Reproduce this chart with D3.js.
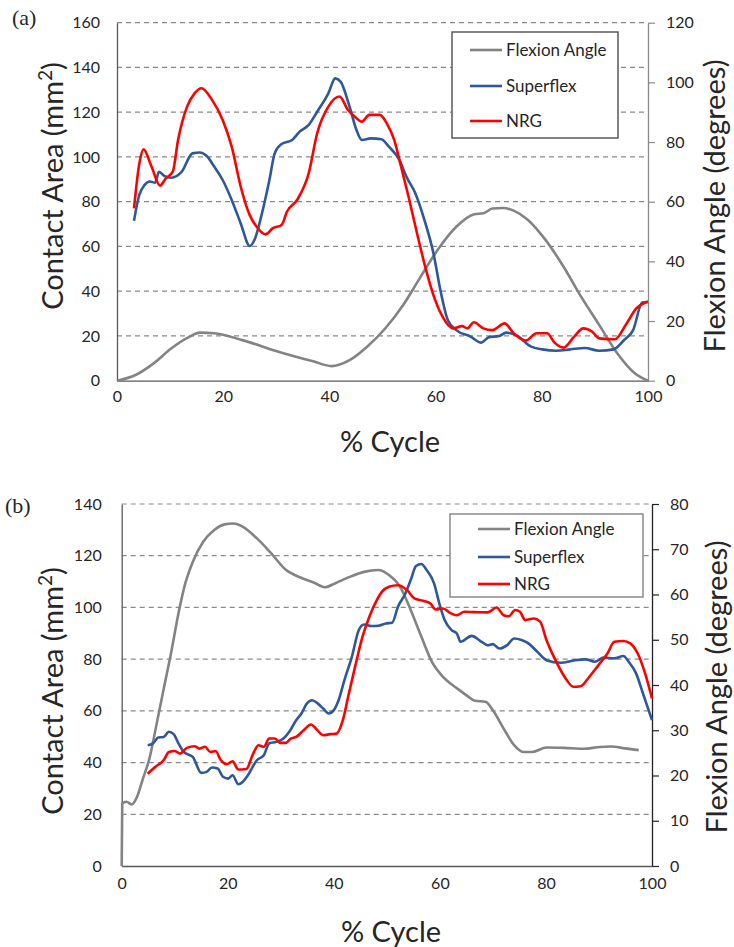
<!DOCTYPE html>
<html>
<head>
<meta charset="utf-8">
<script src="https://cdn.jsdelivr.net/npm/d3@7/dist/d3.min.js"></script>
<style>
    body { margin: 0; background: #fff; }
    text { font-family: Lato, "Open Sans", sans-serif; fill: #262626; }
</style>
</head>
<body>
<svg id="chart" width="734" height="947"></svg>
<script>
// ============================================
// Contact area vs % cycle, two panels
// ============================================

// ---- Panel (a) ----
const flexA_x = [0, 3.5, 6.9, 10.2, 13.6, 15.6, 18.3, 23.6, 30.4, 37.1, 40.4, 43.8, 47.1, 50.5, 53.9, 57.2, 60.6, 63.9, 67.3, 69.0, 70.7, 72.7, 74.7, 77.4, 80.7, 84.1, 87.4, 90.8, 94.2, 97.5, 100];
const flexA_y = [0, 1.9, 5.8, 10.8, 14.7, 16.1, 15.9, 13.6, 9.7, 6.4, 4.9, 6.9, 11.4, 17.5, 25.4, 34.9, 44.4, 51.6, 55.8, 56.1, 57.7, 57.9, 57.0, 53.9, 47.2, 38.2, 28.2, 18.7, 9.2, 2.5, 0];

const superA_x = [3.2, 4.2, 5.2, 6.2, 7.2, 7.9, 8.9, 10.2, 12.2, 14.2, 15.6, 16.9, 18.3, 19.9, 21.6, 23.3, 25, 26, 27.3, 28.7, 29.7, 31, 33, 34.4, 36.1, 37.7, 39.8, 41.1, 42.1, 43.8, 45.1, 46.1, 47.8, 49.8, 51.2, 53.2, 54.5, 56.2, 57.9, 59.6, 60.9, 62.3, 63.9, 66.6, 68.6, 70, 72, 73.3, 75.4, 78, 80.1, 82.7, 85.4, 88.1, 90.8, 93.5, 95.5, 97.2, 98.9, 100];
const superA_y = [71.5, 83, 87.5, 89, 88.5, 93.4, 91.5, 90.7, 93.4, 101.6, 102, 100.4, 95.7, 89.7, 80.8, 70.3, 60.2, 63.6, 74.8, 89.7, 101.6, 105.8, 107.6, 111.3, 114.3, 120.2, 128.4, 135.1, 133.7, 122.5, 112, 107.6, 108.3, 107.9, 104.6, 98.6, 91.2, 83.7, 71.8, 56.9, 40.5, 27.1, 22.6, 19.7, 17, 19.4, 20, 21.5, 20, 15.2, 14, 13.4, 14, 14.6, 13.4, 14, 18.2, 22.6, 34.9, 35.3];

const nrgA_x = [3.2, 4.2, 5, 6.5, 8.1, 9.2, 10.5, 11.5, 13.2, 14.6, 15.9, 17.9, 19.9, 21.6, 23.3, 25, 26.3, 28, 29.3, 31, 32, 34, 36.1, 37.7, 39.8, 41.9, 43.5, 44.8, 46.1, 47.5, 49.5, 50.8, 52.2, 53.5, 54.9, 56.5, 58.2, 59.9, 61.3, 63.3, 65, 66, 67.2, 69, 70.7, 73, 74.7, 77, 79, 81, 82.4, 84.1, 86.1, 87.8, 89.5, 90.8, 93.8, 95.8, 97.8, 100];
const nrgA_y = [77, 97, 103.4, 95.7, 87.2, 90.4, 93.4, 107.6, 122.5, 128.4, 130.7, 125.5, 116.5, 104.6, 86.7, 74, 68.8, 65.4, 68.1, 69.6, 75.5, 81.1, 92.7, 110.6, 122.5, 127, 121, 118, 115.8, 118.8, 118.8, 115, 107.6, 95.7, 82.3, 65.9, 49.5, 36.1, 28.6, 23.4, 24.4, 23.4, 26.1, 23.4, 22.6, 25.6, 21.2, 17.9, 21.2, 21.2, 17, 14.8, 19.7, 23.4, 21.9, 18.9, 18.5, 24.9, 32.3, 35.3];

const areaTicksA = [0, 20, 40, 60, 80, 100, 120, 140, 160];
const angleTicksA = [0, 20, 40, 60, 80, 100, 120];

// ---- Panel (b) ----
const flexB_x = [0, 0.1, 0.9, 1.9, 2.9, 3.9, 5.3, 6.6, 8, 9.3, 10.7, 12, 13.4, 15.4, 17.4, 19.4, 21.1, 22.8, 25.5, 28.2, 30.9, 33.6, 36.3, 38.3, 40.3, 43, 45.7, 48.4, 50.4, 52.5, 54.5, 56.5, 58.5, 60.6, 63.3, 65.3, 66.6, 68.6, 70, 72, 74, 75.7, 77.4, 80.1, 83.5, 86.9, 90.2, 92.2, 94.9, 97.5];
const flexB_y = [0, 13.8, 14.2, 13.6, 15.3, 18.9, 24.1, 31.5, 39.6, 47, 55.8, 62.5, 67.2, 71.7, 74.2, 75.5, 75.7, 75, 72.4, 69.1, 65.5, 63.8, 62.6, 61.6, 62.5, 63.9, 65, 65.4, 64.3, 61.7, 56.6, 50.7, 45.1, 41.8, 39.2, 37.5, 36.5, 36.3, 34.4, 30.4, 26.7, 25.2, 25.2, 26.2, 26.1, 25.9, 26.3, 26.4, 26, 25.6];

const superB_x = [4.9, 5.9, 6.9, 7.9, 8.9, 9.8, 10.7, 11.7, 13.4, 15, 16, 17, 18.1, 19.1, 20.1, 20.9, 22, 22.8, 23.8, 25.5, 26.8, 27.8, 29.2, 30.5, 31.6, 32.9, 33.9, 34.9, 35.9, 37, 38, 39, 40, 40.9, 42, 43.4, 44.7, 45.7, 47.1, 48.4, 49.8, 51, 52.1, 53.5, 54.5, 55.5, 56.5, 57.5, 58.9, 59.9, 60.9, 62.2, 63.2, 63.9, 66, 67.6, 69, 70, 71.2, 72.7, 74, 75.4, 76.7, 78.4, 80.1, 82.8, 85.5, 87.5, 89.2, 90.9, 92.9, 94.6, 95.6, 97, 98.3, 100];
const superB_y = [46.7, 47.4, 49.7, 49.9, 51.9, 51, 47.4, 44.1, 42.2, 36, 36.4, 38.1, 37.7, 34.5, 33.8, 35.1, 31.6, 32.5, 35.1, 40.9, 42.8, 47.4, 48, 49.3, 51.9, 56.4, 59, 62.8, 64.1, 62.8, 60.9, 59, 60.3, 64.1, 71.9, 80.9, 91.2, 93.4, 92.8, 92.9, 93.8, 94.1, 100.3, 105.4, 110.6, 116, 116.8, 114.5, 109.3, 101.5, 95.1, 91.2, 89.9, 86.7, 89, 87.1, 85.4, 85.8, 84.1, 85.4, 88, 87.4, 86.1, 82.8, 79.6, 78.6, 79.6, 79.9, 79, 80.6, 80.3, 81.2, 79, 74.5, 66.7, 56.4];

const nrgB_x = [4.9, 6.3, 7.9, 8.9, 10, 11, 12.3, 13.7, 14.7, 15.7, 16.7, 17.7, 18.7, 19.8, 20.9, 22, 23.5, 24.8, 25.8, 26.8, 27.8, 28.9, 29.9, 30.9, 31.9, 32.9, 34.3, 35.7, 36.6, 38, 39.3, 40.5, 41.7, 42.7, 44, 45.4, 46.7, 48.1, 49.1, 50.4, 52.1, 53.8, 55.2, 56.8, 58.2, 59.2, 60.6, 61.9, 63.2, 64.6, 66.6, 69, 70.7, 72, 73, 74.2, 75.1, 76.1, 77.7, 78.9, 80.1, 81.8, 83.5, 85.2, 86.5, 88.2, 89.9, 91.6, 92.9, 94.6, 95.9, 97.3, 98.7, 100];
const nrgB_y = [35.7, 38.3, 40.9, 44.1, 44.5, 43.5, 45.7, 46.3, 45.4, 46.1, 44.1, 44.5, 40.9, 39.4, 40.5, 37.3, 37.5, 43.5, 46.7, 46.1, 49.3, 49.3, 47.6, 47.6, 49.3, 49.9, 52.5, 54.7, 53.2, 50.6, 51, 51.2, 56.4, 65.4, 77, 88.6, 96.4, 102.8, 106.1, 108, 108.6, 106.7, 103.5, 102.6, 101.5, 99.2, 99.6, 97.9, 97, 98.3, 98.2, 98.1, 100, 97, 96.6, 99, 98.3, 95.1, 95.7, 94.5, 87.4, 79.6, 73.2, 69.3, 69.5, 73.2, 77.7, 82.2, 86.7, 87, 86.1, 82.2, 74.5, 64.8];

const areaTicksB = [0, 20, 40, 60, 80, 100, 120, 140];
const angleTicksB = [0, 10, 20, 30, 40, 50, 60, 70, 80];

const cycleTicks = [0, 20, 40, 60, 80, 100];
const seriesNames = ['Flexion Angle', 'Superflex', 'NRG'];
const seriesColors = ['#838383', '#2f579c', '#ff0000'];

const svg = d3.select('#chart');

function drawPanel(p) {
    const g = svg.append('g');
    const x = d3.scaleLinear().domain([0, 100]).range([p.left, p.right]);
    const yL = d3.scaleLinear().domain([0, p.areaMax]).range([p.bottom, p.top]);
    const yR = d3.scaleLinear().domain([0, p.angleMax]).range([p.bottom, p.top]);

    // Gridlines (dashed)
    g.append('g')
        .selectAll('line')
        .data(p.areaTicks.filter(d => d > 0))
        .join('line')
        .attr('x1', p.left).attr('x2', p.right)
        .attr('y1', d => yL(d)).attr('y2', d => yL(d))
        .attr('stroke', '#8a8a8a')
        .attr('stroke-width', 1.2)
        .attr('stroke-dasharray', '5,4');

    // Left axis, labels only
    const axL = g.append('g')
        .attr('transform', `translate(${p.left},0)`)
        .call(d3.axisLeft(yL).tickValues(p.areaTicks).tickSize(0).tickPadding(p.leftPad));
    axL.select('.domain').attr('stroke', p.leftAxisColor).attr('stroke-width', 1.3);

    // Right axis with outward ticks
    const axR = g.append('g')
        .attr('transform', `translate(${p.right},0)`)
        .call(d3.axisRight(yR).tickValues(p.angleTicks).tickSizeOuter(0).tickSizeInner(7).tickPadding(11));
    axR.select('.domain').attr('stroke', p.rightAxisColor).attr('stroke-width', 1.3);
    axR.selectAll('.tick line').attr('stroke', p.rightAxisColor).attr('stroke-width', 1.2);

    // Bottom axis
    const axB = g.append('g')
        .attr('transform', `translate(0,${p.bottom})`)
        .call(d3.axisBottom(x).tickValues(cycleTicks).tickSize(0).tickPadding(p.bottomPad));
    axB.select('.domain').attr('stroke', p.leftAxisColor).attr('stroke-width', 1.3);

    g.selectAll('.tick text')
        .style('font-family', 'Lato, sans-serif')
        .style('font-size', '16px')
        .attr('fill', '#262626');

    // Series
    const series = [
        { xs: p.flexX, ys: p.flexY, scale: yR, color: seriesColors[0] },
        { xs: p.superX, ys: p.superY, scale: yL, color: seriesColors[1] },
        { xs: p.nrgX, ys: p.nrgY, scale: yL, color: seriesColors[2] }
    ];
    const drawOrder = p.drawOrder;
    drawOrder.forEach(i => {
        const s = series[i];
        const line = d3.line()
            .x(d => x(d[0]))
            .y(d => s.scale(d[1]))
            .curve(d3.curveMonotoneX);
        g.append('path')
            .datum(d3.zip(s.xs, s.ys))
            .attr('d', line)
            .attr('fill', 'none')
            .attr('stroke', s.color)
            .attr('stroke-width', 2.6)
            .attr('stroke-linejoin', 'round');
    });

    // Legend
    const lg = g.append('g');
    lg.append('rect')
        .attr('x', p.legend.x).attr('y', p.legend.y)
        .attr('width', p.legend.w).attr('height', p.legend.h)
        .attr('fill', '#fff')
        .attr('stroke', p.legend.stroke)
        .attr('stroke-width', 1.5);
    seriesNames.forEach((name, i) => {
        const cy = p.legend.rows[i];
        lg.append('line')
            .attr('x1', p.legend.lineX).attr('x2', p.legend.lineX + 32)
            .attr('y1', cy).attr('y2', cy)
            .attr('stroke', seriesColors[i])
            .attr('stroke-width', 2.6);
        lg.append('text')
            .attr('x', p.legend.lineX + 36)
            .attr('y', cy)
            .attr('dy', '0.35em')
            .style('font-size', '17px')
            .text(name);
    });

    // Axis titles
    const lt = g.append('text')
        .attr('transform', `translate(${p.leftTitle[0]},${p.leftTitle[1]}) rotate(-90)`)
        .attr('text-anchor', 'middle')
        .attr('dy', '0.35em')
        .style('font-size', '29px');
    lt.append('tspan').text('Contact Area (mm');
    lt.append('tspan').attr('baseline-shift', 'super').style('font-size', '19px').text('2');
    lt.append('tspan').text(')');

    g.append('text')
        .attr('transform', `translate(${p.rightTitle[0]},${p.rightTitle[1]}) rotate(-90)`)
        .attr('text-anchor', 'middle')
        .attr('dy', '0.35em')
        .style('font-size', '29px')
        .text('Flexion Angle (degrees)');

    g.append('text')
        .attr('x', p.bottomTitle[0]).attr('y', p.bottomTitle[1])
        .attr('text-anchor', 'middle')
        .attr('dy', '0.35em')
        .style('font-size', '29px')
        .text('% Cycle');

    // Panel tag
    g.append('text')
        .attr('x', p.tag[0]).attr('y', p.tag[1])
        .style('font-family', '"Liberation Serif", "DejaVu Serif", serif')
        .style('font-size', '22px')
        .attr('fill', '#000')
        .text(p.tagText);
}

drawPanel({
    left: 117, right: 648, top: 22.7, bottom: 380.7,
    areaMax: 160, angleMax: 120,
    areaTicks: areaTicksA, angleTicks: angleTicksA,
    flexX: flexA_x, flexY: flexA_y,
    superX: superA_x, superY: superA_y,
    nrgX: nrgA_x, nrgY: nrgA_y,
    drawOrder: [0, 1, 2],
    leftAxisColor: '#595959', rightAxisColor: '#8a8a8a',
    leftPad: 17, bottomPad: 10,
    legend: { x: 452, y: 32, w: 166, h: 106, stroke: '#595959', lineX: 470, rows: [50, 86, 121] },
    leftTitle: [53, 186], rightTitle: [715, 206], bottomTitle: [390, 442],
    tag: [12, 25], tagText: '(a)'
});

drawPanel({
    left: 121.7, right: 652, top: 504, bottom: 866,
    areaMax: 140, angleMax: 80,
    areaTicks: areaTicksB, angleTicks: angleTicksB,
    flexX: flexB_x, flexY: flexB_y,
    superX: superB_x, superY: superB_y,
    nrgX: nrgB_x, nrgY: nrgB_y,
    drawOrder: [0, 1, 2],
    leftAxisColor: '#595959', rightAxisColor: '#222',
    leftPad: 20, bottomPad: 12,
    legend: { x: 450, y: 514, w: 193, h: 83, stroke: '#8a8a8a', lineX: 478, rows: [529, 557, 584] },
    leftTitle: [53, 691], rightTitle: [717, 687], bottomTitle: [391, 932],
    tag: [5, 513], tagText: '(b)'
});
</script>
</body>
</html>
